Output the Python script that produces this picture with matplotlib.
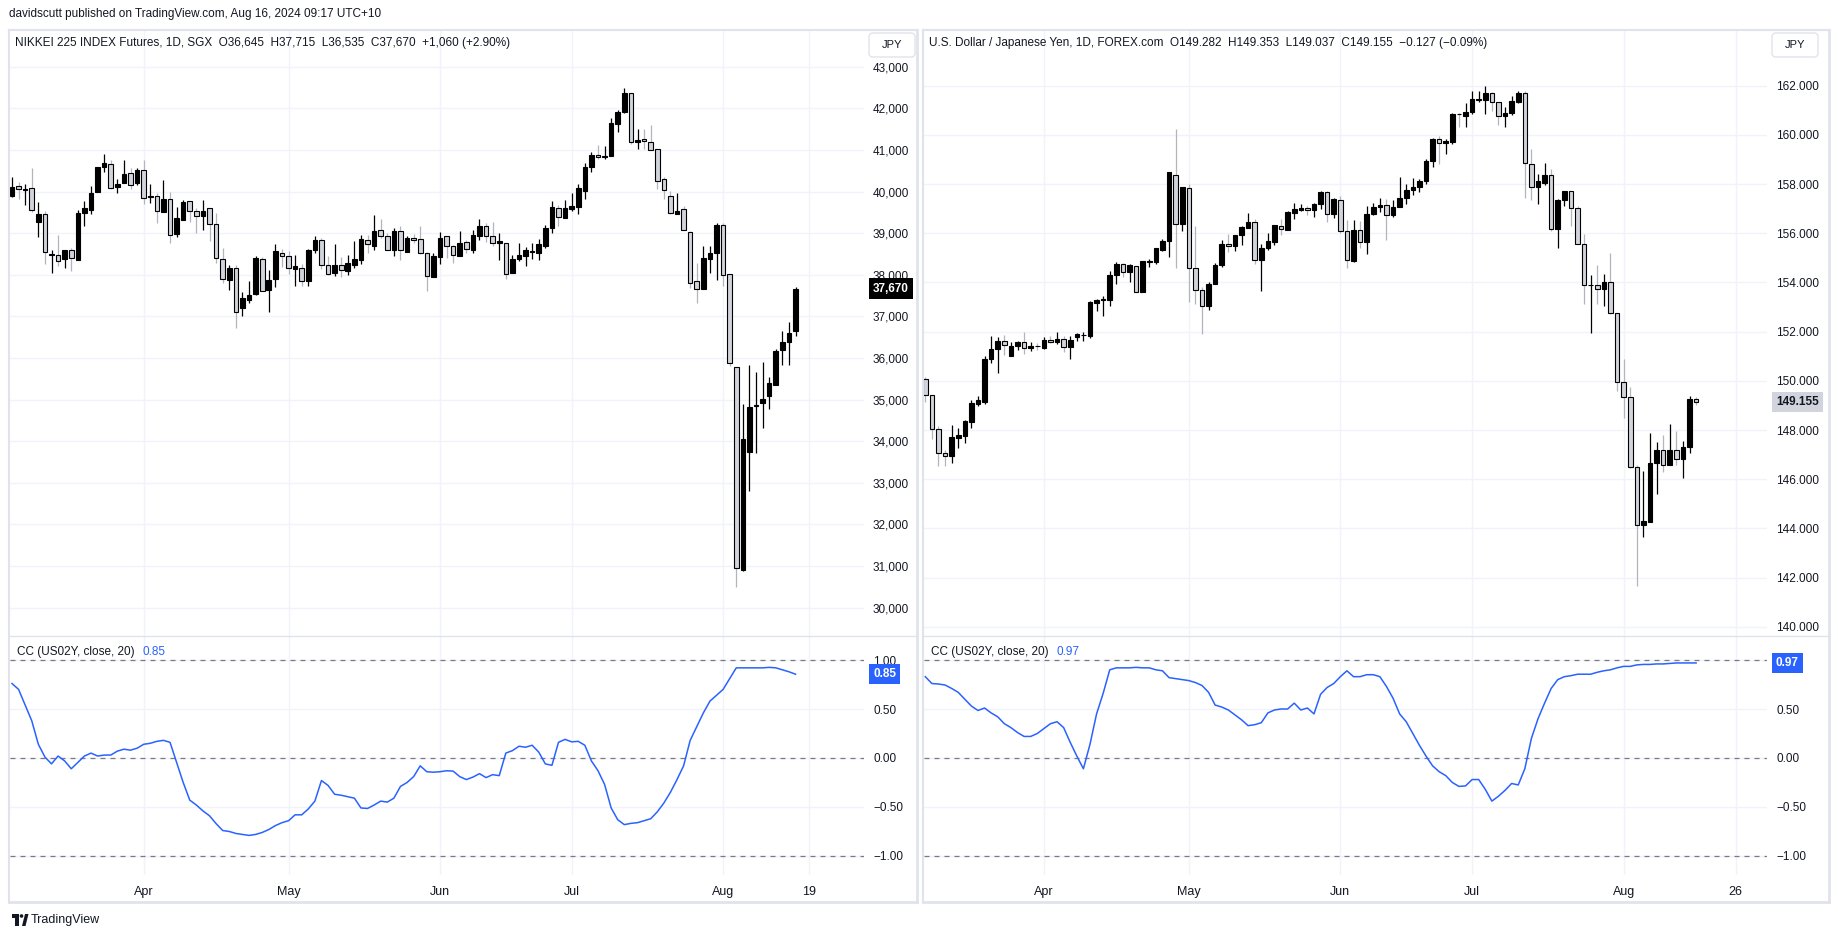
import numpy as np
import matplotlib.pyplot as plt
from matplotlib.lines import Line2D
from matplotlib.patches import FancyBboxPatch, Rectangle, Circle, Polygon
from matplotlib.ticker import FuncFormatter

plt.rcParams['font.family'] = ['Liberation Sans', 'DejaVu Sans']

# ---------------------------------------------------------------------------
# Nikkei 225 futures (SGX), daily OHLC
# ---------------------------------------------------------------------------
nk_open = [39900, 40125, 40045, 40080, 39280, 39460, 38470, 38470, 38390, 38585,
           38345, 39475, 39565, 39985, 40580, 40660, 40100, 40195, 40445, 40195,
           40515, 39860, 39885, 39520, 39815, 38970, 39325, 39770, 39545, 39405,
           39600, 39215, 38370, 37865, 38160, 37190, 37400, 37545, 38370, 37625,
           37910, 38525, 38445, 38150, 38175, 37855, 38595, 38825, 38230, 38050,
           38230, 38080, 38245, 38365, 38845, 38700, 39085, 38925, 38595, 39065,
           38560, 38880, 38850, 38525, 37955, 38435, 38925, 38685, 38460, 38780,
           38605, 38940, 39165, 38925, 38755, 38755, 38050, 38380, 38460, 38560,
           38530, 38700, 39135, 39600, 39370, 39580, 39635, 40025, 40580, 40875,
           40835, 40845, 41620, 41915, 42370, 41200, 41265, 41195, 41025, 40295,
           39895, 39460, 39575, 39020, 37855, 37670, 38390, 38525, 39190, 38015,
           35775, 30915, 33750, 34850, 34930, 35090, 35355, 36190, 36380, 36645]
nk_high = [40360, 40230, 40185, 40570, 39750, 39545, 38595, 38960, 38585, 38655,
           39565, 39780, 40135, 40590, 40910, 40750, 40305, 40765, 40570, 40560,
           40765, 40185, 39965, 40285, 39990, 39635, 39795, 39785, 39610, 39805,
           39600, 39485, 38650, 38245, 38245, 37580, 37855, 38450, 38425, 38115,
           38745, 38630, 38570, 38480, 38255, 38620, 38925, 38880, 38450, 38745,
           38425, 38480, 38815, 38950, 38950, 39440, 39340, 39005, 39130, 39175,
           38935, 38985, 39175, 38560, 38525, 39040, 38935, 38720, 39055, 38835,
           39075, 39340, 39235, 39280, 39005, 38770, 38470, 38770, 38675, 38765,
           38850, 39190, 39780, 39680, 39805, 39955, 40185, 40695, 40955, 41120,
           41105, 41770, 41970, 42495, 42370, 41495, 41505, 41605, 41025, 40355,
           40010, 39965, 39645, 39055, 38290, 38690, 38685, 39255, 39255, 38015,
           35775, 34890, 35825, 35665, 35905, 35540, 36220, 36645, 36870, 37715]
nk_low = [39880, 39830, 39670, 39520, 38915, 38265, 38050, 38220, 38165, 38080,
          38345, 39180, 39450, 39985, 40480, 40055, 39965, 40195, 40070, 40170,
          39700, 39735, 39255, 39520, 38770, 38915, 39325, 39280, 39015, 39085,
          38810, 38285, 37800, 37625, 36710, 37020, 37330, 37525, 37600, 37115,
          37695, 38185, 38025, 37740, 37740, 37740, 38530, 38140, 38005, 37980,
          37945, 38005, 38175, 38265, 38515, 38605, 38890, 38585, 38450, 38365,
          38560, 38755, 38505, 37600, 37955, 38265, 38410, 38290, 38460, 38530,
          38530, 38825, 38790, 38690, 38355, 37900, 38050, 38335, 38220, 38380,
          38345, 38655, 39015, 39180, 39370, 39545, 39450, 39830, 40480, 40775,
          40785, 40845, 41440, 41880, 41140, 41015, 41035, 40995, 40055, 39830,
          39450, 39460, 39075, 37685, 37315, 37670, 38050, 37880, 37720, 35800,
          30485, 30885, 32800, 33710, 34315, 34775, 35355, 35825, 35820, 36535]
nk_close = [40115, 40070, 40065, 39565, 39465, 38540, 38495, 38325, 38585, 38400,
            39475, 39610, 39965, 40590, 40685, 40080, 40180, 40430, 40150, 40525,
            39840, 39885, 39530, 39815, 38950, 39360, 39750, 39545, 39420, 39545,
            39215, 38400, 37890, 38160, 37115, 37435, 37515, 38415, 37600, 37865,
            38570, 38460, 38160, 38210, 37845, 38595, 38825, 38230, 38025, 38230,
            38115, 38275, 38370, 38850, 38735, 39055, 38925, 38585, 39065, 38585,
            38880, 38825, 38525, 37980, 38445, 38895, 38700, 38470, 38755, 38610,
            38950, 39165, 38925, 38755, 38815, 38025, 38370, 38470, 38585, 38575,
            38745, 39120, 39635, 39385, 39610, 39655, 40080, 40590, 40875, 40835,
            40855, 41655, 41905, 42370, 41195, 41245, 41210, 40995, 40260, 40035,
            39485, 39530, 39075, 37810, 37670, 38400, 38525, 39190, 37990, 35870,
            30960, 34045, 34820, 34875, 35015, 35400, 36165, 36385, 36600, 37670]

# correlation with US02Y (20), Nikkei pane
nk_cc = [0.76, 0.70, 0.54, 0.38, 0.14, 0.01, -0.06, 0.02, -0.03, -0.11,
         -0.045, 0.02, 0.05, 0.02, 0.03, 0.03, 0.07, 0.09, 0.08, 0.10,
         0.14, 0.15, 0.17, 0.18, 0.16, -0.045, -0.25, -0.43, -0.48, -0.54,
         -0.59, -0.67, -0.74, -0.75, -0.77, -0.78, -0.79, -0.78, -0.76, -0.73,
         -0.69, -0.66, -0.64, -0.58, -0.58, -0.52, -0.44, -0.23, -0.28, -0.37,
         -0.38, -0.395, -0.41, -0.51, -0.515, -0.48, -0.44, -0.45, -0.41, -0.29,
         -0.25, -0.19, -0.08, -0.14, -0.145, -0.14, -0.13, -0.134, -0.19, -0.22,
         -0.195, -0.16, -0.20, -0.17, -0.18, 0.05, 0.075, 0.12, 0.11, 0.13,
         0.06, -0.06, -0.075, 0.16, 0.19, 0.165, 0.17, 0.13, -0.03, -0.13,
         -0.27, -0.51, -0.63, -0.68, -0.667, -0.66, -0.64, -0.62, -0.55, -0.46,
         -0.35, -0.22, -0.08, 0.18, 0.32, 0.46, 0.58, 0.64, 0.70, 0.81,
         0.92, 0.92, 0.92, 0.92, 0.92, 0.925, 0.92, 0.90, 0.88, 0.855]

nk_ticks = [20, 42, 65, 85, 108, 121]
nk_tick_labels = ['Apr', 'May', 'Jun', 'Jul', 'Aug', '19']

# ---------------------------------------------------------------------------
# USD/JPY (FOREX.com), daily OHLC
# ---------------------------------------------------------------------------
uj_open = [150.09, 149.43, 148.05, 147.07, 146.94, 147.69, 147.75, 148.31, 149.04, 149.16,
           150.87, 151.29, 151.62, 151.01, 151.41, 151.58, 151.32, 151.43, 151.35, 151.67,
           151.59, 151.70, 151.37, 151.77, 151.85, 151.83, 153.16, 153.28, 153.28, 154.31,
           154.75, 154.42, 154.67, 153.61, 154.85, 154.85, 155.33, 155.68, 158.37, 156.37,
           157.84, 154.58, 153.70, 153.04, 153.94, 154.69, 155.57, 155.47, 155.92, 156.22,
           156.47, 154.90, 155.38, 155.66, 156.28, 156.14, 156.82, 156.93, 157.01, 156.93,
           157.18, 157.68, 156.80, 157.36, 156.10, 154.88, 156.13, 155.63, 156.79, 157.07,
           157.15, 156.74, 157.06, 157.42, 157.75, 157.87, 158.11, 158.92, 159.82, 159.67,
           159.70, 160.86, 160.78, 160.92, 161.41, 161.43, 161.68, 161.32, 160.75, 160.87,
           161.35, 161.68, 158.82, 157.88, 158.05, 158.37, 156.16, 157.37, 157.72, 157.03,
           155.55, 153.88, 153.90, 153.74, 154.03, 152.77, 149.96, 149.35, 146.50, 144.14,
           144.25, 146.66, 147.18, 146.56, 147.18, 146.82, 147.31, 149.282]
uj_high = [150.14, 149.43, 148.16, 147.21, 148.22, 148.07, 148.40, 149.21, 149.39, 151.01,
           151.83, 151.79, 151.88, 151.59, 151.64, 151.99, 151.59, 151.55, 151.79, 151.83,
           151.99, 151.83, 151.82, 151.94, 151.97, 153.26, 153.34, 153.43, 154.48, 154.82,
           154.78, 154.73, 154.67, 154.88, 154.96, 155.41, 155.78, 158.50, 160.24, 157.89,
           158.02, 156.29, 153.82, 154.03, 154.81, 155.74, 155.96, 155.93, 156.29, 156.82,
           156.59, 155.56, 156.02, 156.34, 156.59, 156.89, 157.24, 157.19, 157.12, 157.24,
           157.72, 157.71, 157.42, 157.53, 156.52, 156.52, 156.49, 157.12, 157.23, 157.45,
           157.39, 157.36, 158.29, 157.99, 158.26, 158.19, 159.00, 159.88, 159.96, 159.82,
           160.87, 160.87, 161.29, 161.80, 161.80, 161.98, 161.73, 161.32, 161.13, 161.56,
           161.80, 161.77, 159.44, 158.42, 158.85, 158.62, 157.40, 157.72, 157.72, 157.11,
           155.97, 154.32, 154.71, 154.35, 155.20, 152.77, 150.89, 149.77, 146.56, 146.34,
           147.88, 147.51, 147.80, 148.24, 147.96, 147.56, 149.38, 149.353]
uj_low = [149.13, 147.63, 146.53, 146.53, 146.65, 147.27, 147.47, 148.08, 148.97, 149.06,
          150.74, 150.32, 151.04, 151.01, 151.25, 151.08, 151.20, 151.25, 151.28, 151.52,
          151.50, 151.16, 150.89, 151.62, 151.62, 151.74, 152.83, 152.63, 153.04, 153.94,
          154.21, 154.01, 153.61, 153.61, 154.61, 154.76, 155.27, 155.02, 154.57, 156.11,
          153.20, 153.11, 151.90, 152.86, 153.94, 154.61, 155.23, 155.29, 155.54, 156.20,
          154.75, 153.64, 155.32, 155.54, 155.92, 156.14, 156.56, 156.89, 156.73, 156.64,
          156.97, 156.44, 156.61, 155.99, 154.57, 154.85, 155.39, 155.17, 156.76, 156.86,
          155.74, 156.64, 157.06, 157.19, 157.57, 157.68, 157.99, 158.71, 158.80, 159.24,
          159.64, 160.32, 160.30, 160.84, 161.32, 160.83, 160.98, 160.38, 160.30, 160.80,
          161.29, 157.45, 157.37, 157.18, 157.96, 156.08, 155.39, 157.11, 156.28, 155.55,
          153.11, 151.94, 153.11, 153.06, 152.71, 149.60, 148.51, 146.44, 141.68, 143.66,
          144.25, 145.42, 146.29, 146.56, 146.60, 146.05, 147.05, 149.037]
uj_close = [149.43, 148.05, 147.07, 146.95, 147.71, 147.78, 148.35, 149.09, 149.21, 150.90,
            151.29, 151.62, 151.46, 151.41, 151.59, 151.34, 151.43, 151.40, 151.67, 151.59,
            151.70, 151.38, 151.67, 151.89, 151.88, 153.19, 153.29, 153.31, 154.31, 154.75,
            154.43, 154.69, 153.61, 154.88, 154.88, 155.38, 155.69, 158.50, 156.37, 157.87,
            154.58, 153.70, 153.04, 153.94, 154.72, 155.57, 155.47, 155.93, 156.26, 156.47,
            154.90, 155.41, 155.69, 156.32, 156.17, 156.85, 156.97, 157.03, 156.94, 157.19,
            157.69, 156.80, 157.38, 156.10, 154.90, 156.14, 155.65, 156.79, 157.06, 157.15,
            156.74, 157.07, 157.44, 157.77, 157.87, 158.13, 158.95, 159.84, 159.66, 159.76,
            160.86, 160.83, 160.93, 161.44, 161.44, 161.68, 161.32, 160.75, 160.89, 161.37,
            161.68, 158.85, 157.88, 158.11, 158.37, 156.16, 157.37, 157.72, 157.03, 155.55,
            153.90, 153.91, 153.74, 154.03, 152.77, 149.96, 149.35, 146.50, 144.14, 144.30,
            146.66, 147.18, 146.56, 147.18, 146.82, 147.32, 149.25, 149.155]

# correlation with US02Y (20), USDJPY pane
uj_cc = [0.83, 0.76, 0.755, 0.745, 0.71, 0.67, 0.60, 0.53, 0.485, 0.51,
         0.46, 0.42, 0.35, 0.31, 0.26, 0.22, 0.22, 0.25, 0.30, 0.35,
         0.37, 0.31, 0.16, 0.02, -0.11, 0.14, 0.45, 0.66, 0.90, 0.92,
         0.92, 0.92, 0.925, 0.92, 0.92, 0.90, 0.89, 0.82, 0.81, 0.80,
         0.79, 0.77, 0.74, 0.67, 0.54, 0.52, 0.49, 0.44, 0.39, 0.33,
         0.34, 0.36, 0.46, 0.49, 0.50, 0.50, 0.56, 0.49, 0.51, 0.45,
         0.65, 0.72, 0.76, 0.83, 0.89, 0.83, 0.83, 0.85, 0.85, 0.83,
         0.73, 0.61, 0.45, 0.37, 0.25, 0.13, 0.02, -0.08, -0.14, -0.18,
         -0.25, -0.29, -0.285, -0.22, -0.22, -0.32, -0.44, -0.39, -0.33, -0.26,
         -0.275, -0.11, 0.20, 0.40, 0.56, 0.71, 0.80, 0.83, 0.84, 0.855,
         0.855, 0.855, 0.875, 0.89, 0.90, 0.92, 0.935, 0.935, 0.95, 0.955,
         0.955, 0.96, 0.96, 0.965, 0.97, 0.97, 0.97, 0.97]

uj_ticks = [18, 40, 63, 83, 106, 123]
uj_tick_labels = ['Apr', 'May', 'Jun', 'Jul', 'Aug', '26']

nk_title = 'NIKKEI 225 INDEX Futures, 1D, SGX  O36,645  H37,715  L36,535  C37,670  +1,060 (+2.90%)'
uj_title = 'U.S. Dollar / Japanese Yen, 1D, FOREX.com  O149.282  H149.353  L149.037  C149.155  \u22120.127 (\u22120.09%)'
cc_title = 'CC (US02Y, close, 20)'

# ---------------------------------------------------------------------------
# layout (pixels)
# ---------------------------------------------------------------------------
W, H = 1838, 939
TOP, SEP, SUB_BOT, BOT = 30, 636, 875, 902
TXT = '#131722'
FRAME = '#e0e3eb'
GRID = '#f0f3fa'
BLUE = '#2962ff'

fig = plt.figure(figsize=(W / 100, H / 100), dpi=100)
fig.patch.set_facecolor('white')
inch = fig.dpi_scale_trans


def add_ax(x0, y0, x1, y1):
    return fig.add_axes([x0 / W, 1 - y1 / H, (x1 - x0) / W, (y1 - y0) / H])


def line(xs, ys, color=FRAME, lw=1.0):
    fig.add_artist(Line2D([x / 100 for x in xs], [(H - y) / 100 for y in ys],
                          transform=inch, color=color, lw=lw))


def ftext(x, y, s, **kw):
    return fig.text(x / W, 1 - y / H, s, va='center', ha=kw.pop('ha', 'left'),
                    color=kw.pop('color', TXT), fontsize=kw.pop('fontsize', 8.5), **kw)


def panel(fx0, fx1, px1, xlim, ylim, yticks, yfmt, o, h, l, c, cc, ticks, tick_labels,
          title, last_txt, last_bg, last_fg, cc_txt):
    o, h, l, c = map(np.asarray, (o, h, l, c))
    ax0 = fx0 + 0.5
    label_x = (px1 + 9 - ax0) / (px1 - ax0)

    # --- price pane ---
    ax = add_ax(ax0, TOP, px1, SEP)
    ax.set_xlim(xlim)
    ax.set_ylim(ylim)
    for s in ax.spines.values():
        s.set_visible(False)
    ax.set_xticks(ticks)
    ax.set_yticks(yticks)
    ax.yaxis.tick_right()
    ax.yaxis.set_major_formatter(FuncFormatter(yfmt))
    ax.tick_params(length=0, labelsize=8.5, labelcolor=TXT, pad=6.5, labelbottom=False)
    ax.grid(True, color=GRID, linewidth=1)
    ax.set_axisbelow(True)

    idx = np.arange(len(o))
    up = c >= o
    ax.vlines(idx, l, h, colors=['#000000' if u else '#b2b5be' for u in up],
              linewidth=0.9, zorder=2)
    ax.bar(idx, np.abs(c - o), bottom=np.minimum(o, c), width=0.7,
           color=['#000000' if u else '#d1d4dc' for u in up],
           edgecolor='#000000', linewidth=0.8, zorder=3)

    ax.text(label_x, c[-1], last_txt, transform=ax.get_yaxis_transform(),
            ha='left', va='center', fontsize=8.5, color=last_fg, fontweight='bold',
            bbox=dict(boxstyle='square,pad=0.35', fc=last_bg, ec='none'), zorder=5)

    # --- correlation pane ---
    sx = add_ax(ax0, SEP, px1, SUB_BOT)
    sx.set_xlim(xlim)
    sx.set_ylim(-1.194, 1.245)
    for s in sx.spines.values():
        s.set_visible(False)
    sx.plot(np.arange(len(cc)), cc, color=BLUE, lw=1.1, zorder=3)
    for v in (1, 0, -1):
        sx.axhline(v, color='#787b86', lw=0.9, ls=(0, (4, 4)), zorder=2)
    sx.set_yticks([-1, -0.5, 0, 0.5, 1])
    sx.yaxis.tick_right()
    sx.yaxis.set_major_formatter(FuncFormatter(lambda v, p: f'{v:.2f}'.replace('-', '\u2212')))
    sx.set_xticks(ticks)
    sx.set_xticklabels(tick_labels)
    sx.tick_params(length=0, labelsize=8.5, labelcolor=TXT, pad=6.5)
    sx.tick_params(axis='x', labelsize=9, pad=8)
    sx.grid(True, color=GRID, linewidth=1)
    sx.set_axisbelow(True)
    sx.text(label_x, cc[-1], cc_txt, transform=sx.get_yaxis_transform(),
            ha='left', va='center', fontsize=8.5, color='white', fontweight='bold',
            bbox=dict(boxstyle='square,pad=0.35', fc=BLUE, ec='none'), zorder=5)

    # --- legends ---
    ftext(fx0 + 6, 43, title)
    t = ftext(fx0 + 8, 652, cc_title)
    fig.add_artist(plt.Annotation(cc_txt, xy=(1, 0), xycoords=t, xytext=(6, 0),
                                  textcoords='offset points', va='bottom', ha='left',
                                  color=BLUE, fontsize=8.5))

    # --- currency button ---
    bx = px1 + 5
    fig.add_artist(FancyBboxPatch((bx / 100, (H - 57) / 100), 0.46, 0.24,
                                  boxstyle='round,pad=0,rounding_size=0.04',
                                  transform=inch, fc='white', ec=FRAME, lw=1))
    ftext(bx + 23, 45, 'JPY', ha='center', fontsize=8)

    # --- frame ---
    line([fx0, fx1], [TOP, TOP], lw=1.5)
    line([fx0, fx1], [SEP, SEP])
    line([fx0, fx1], [BOT, BOT], lw=2)
    line([fx0, fx0], [TOP, BOT], lw=1.5)
    line([fx1, fx1], [TOP, BOT], lw=2)


# left: Nikkei futures
panel(9, 917, 864, (-0.38, 129.4), (29317, 43885), range(30000, 43001, 1000),
      lambda v, p: f'{v:,.0f}',
      nk_open, nk_high, nk_low, nk_close, nk_cc, nk_ticks, nk_tick_labels,
      nk_title, '37,670', '#000000', 'white', '0.85')

# right: USDJPY
panel(923, 1829, 1767, (-0.27, 127.76), (139.63, 164.26), np.arange(140, 163, 2),
      lambda v, p: f'{v:.3f}',
      uj_open, uj_high, uj_low, uj_close, uj_cc, uj_ticks, uj_tick_labels,
      uj_title, '149.155', '#d1d4dc', TXT, '0.97')

# header and footer
ftext(9, 14, 'davidscutt published on TradingView.com, Aug 16, 2024 09:17 UTC+10')

# TradingView mark
fig.add_artist(Rectangle((12 / 100, (H - 918) / 100), 0.07, 0.04, transform=inch, fc=TXT, ec='none'))
fig.add_artist(Rectangle((15 / 100, (H - 926) / 100), 0.04, 0.12, transform=inch, fc=TXT, ec='none'))
fig.add_artist(Circle((21.5 / 100, (H - 916) / 100), 0.018, transform=inch, fc=TXT, ec='none'))
fig.add_artist(Polygon([(22 / 100, (H - 926) / 100), (25 / 100, (H - 914) / 100),
                        (28.5 / 100, (H - 914) / 100), (25.5 / 100, (H - 926) / 100)],
                       transform=inch, fc=TXT, ec='none'))
ftext(31, 920, 'TradingView', fontsize=9)

fig.savefig('out.png', dpi=100)
